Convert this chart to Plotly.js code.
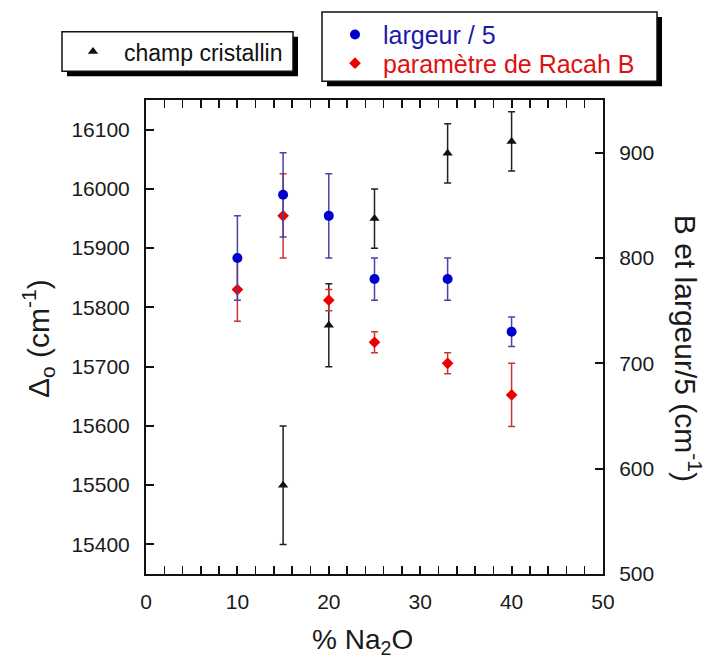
<!DOCTYPE html>
<html><head><meta charset="utf-8">
<script src="https://cdn.plot.ly/plotly-3.0.1.min.js"></script>
<style>html,body{margin:0;padding:0;background:#fff}</style>
</head><body><div id="chart" style="width:709px;height:666px"></div>
<script>
// % Na2O
const xField = [15, 20, 25, 33, 40];
const crystalField = [15500, 15770, 15950, 16060, 16080];
const crystalFieldErr = [100, 70, 50, 50, 50];

const xWidth = [10, 15, 20, 25, 33, 40];
const widthOver5 = [800, 860, 840, 780, 780, 730];
const widthErr = [40, 40, 40, 20, 20, 14];

const xRacah = [10, 15, 20, 25, 33, 40];
const racahB = [770, 840, 760, 720, 700, 670];
const racahErr = [30, 40, 10, 10, 10, 30];

const xTicks = [0, 10, 20, 30, 40, 50];
const yLeftTicks = [15400, 15500, 15600, 15700, 15800, 15900, 16000, 16100];
const yRightTicks = [500, 600, 700, 800, 900];

const FONT = 'Liberation Sans, Arial, sans-serif';

const traces = [
  {x: xField, y: crystalField, type: 'scatter', mode: 'markers', name: 'champ cristallin',
   legend: 'legend', yaxis: 'y', cliponaxis: false,
   marker: {symbol: 'triangle-up', size: 9, color: '#111'},
   error_y: {type: 'data', array: crystalFieldErr, visible: true, color: '#222', thickness: 1.5, width: 3.5}},
  {x: xRacah, y: racahB, type: 'scatter', mode: 'markers',
   name: '<span style="color:#dd1111">paramètre de Racah B</span>',
   legend: 'legend3', yaxis: 'y2',
   marker: {symbol: 'diamond', size: 9, color: '#ee0000'},
   error_y: {type: 'data', array: racahErr, visible: true, color: '#cc3333', thickness: 1.5, width: 3.5}},
  {x: xWidth, y: widthOver5, type: 'scatter', mode: 'markers',
   name: '<span style="color:#1a1aaa">largeur / 5</span>',
   legend: 'legend2', yaxis: 'y2',
   marker: {symbol: 'circle', size: 10, color: '#0000cc'},
   error_y: {type: 'data', array: widthErr, visible: true, color: '#4545a5', thickness: 1.5, width: 3.5}}
];

function px2x(p) { return (p - 146) / 457; }
function px2y(p) { return 1 - (p - 94) / 480; }

const axisCommon = {
  ticks: 'inside', ticklen: 8, tickwidth: 2, tickcolor: '#111',
  showline: true, linewidth: 2, linecolor: '#111',
  showgrid: false, zeroline: false, tickformat: 'd',
  tickfont: {family: FONT, size: 21, color: '#1a1a1a'}
};

const layout = {
  width: 709, height: 666,
  margin: {l: 146, r: 106, t: 94, b: 92, pad: 0},
  paper_bgcolor: '#ffffff', plot_bgcolor: '#ffffff',
  font: {family: FONT, color: '#1a1a1a', size: 21},
  showlegend: true,
  xaxis: Object.assign({}, axisCommon, {
    range: [0, 50], tickvals: xTicks, mirror: 'allticks', ticklabelstandoff: 8,
    minor: {dtick: 2, tick0: 0, ticks: 'inside', ticklen: 5, tickwidth: 1.5, tickcolor: '#111', showgrid: false}
  }),
  yaxis: Object.assign({}, axisCommon, {
    range: [15350, 16150], tickvals: yLeftTicks, ticklabelstandoff: 10
  }),
  yaxis2: Object.assign({}, axisCommon, {
    range: [500, 950], tickvals: yRightTicks, overlaying: 'y', side: 'right', ticklabelstandoff: 10
  }),
  legend: {x: px2x(62), y: px2y(45), xanchor: 'left', yanchor: 'middle',
    bgcolor: 'rgba(0,0,0,0)', borderwidth: 0, font: {family: FONT, size: 23, color: '#111'}, itemwidth: 52},
  legend2: {x: px2x(327), y: px2y(28), xanchor: 'left', yanchor: 'middle',
    bgcolor: 'rgba(0,0,0,0)', borderwidth: 0, font: {family: FONT, size: 25}, itemwidth: 46},
  legend3: {x: px2x(327), y: px2y(57), xanchor: 'left', yanchor: 'middle',
    bgcolor: 'rgba(0,0,0,0)', borderwidth: 0, font: {family: FONT, size: 25}, itemwidth: 46},
  shapes: [
    {type: 'rect', xref: 'paper', yref: 'paper', x0: px2x(67), x1: px2x(298), y0: px2y(30), y1: px2y(70),
     fillcolor: '#000', line: {width: 0}, layer: 'above'},
    {type: 'rect', xref: 'paper', yref: 'paper', x0: px2x(62), x1: px2x(293), y0: px2y(25), y1: px2y(65),
     fillcolor: '#fff', line: {width: 1.5, color: '#111'}, layer: 'above'},
    {type: 'rect', xref: 'paper', yref: 'paper', x0: px2x(327), x1: px2x(662), y0: px2y(10), y1: px2y(80),
     fillcolor: '#000', line: {width: 0}, layer: 'above'},
    {type: 'rect', xref: 'paper', yref: 'paper', x0: px2x(322), x1: px2x(657), y0: px2y(5), y1: px2y(75),
     fillcolor: '#fff', line: {width: 1.5, color: '#111'}, layer: 'above'}
  ],
  annotations: [
    {text: '% Na<sub>2</sub>O', xref: 'paper', yref: 'paper', x: px2x(362), y: px2y(642),
     xanchor: 'center', yanchor: 'middle', showarrow: false, font: {family: FONT, size: 28, color: '#1a1a1a'}},
    {text: 'Δ<sub>o</sub> (cm<sup>-1</sup>)', xref: 'paper', yref: 'paper', x: px2x(38), y: px2y(336),
     xanchor: 'center', yanchor: 'middle', textangle: -90, showarrow: false, font: {family: FONT, size: 30, color: '#1a1a1a'}},
    {text: 'B et largeur/5 (cm<sup>-1</sup>)', xref: 'paper', yref: 'paper', x: px2x(688), y: px2y(345),
     xanchor: 'center', yanchor: 'middle', textangle: 90, showarrow: false, font: {family: FONT, size: 30, color: '#1a1a1a'}}
  ]
};

Plotly.newPlot('chart', traces, layout, {displayModeBar: false, staticPlot: true});
</script>
</body></html>
